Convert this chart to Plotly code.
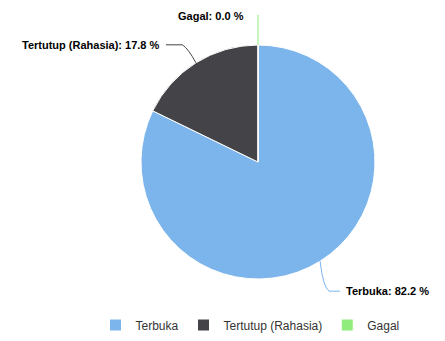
import math
import plotly.graph_objects as go

labels = ["Terbuka", "Tertutup (Rahasia)", "Gagal"]
values = [82.2, 17.8, 0.0]
colors = ["#7cb5ec", "#434348", "#90ed7d"]

W, H = 445, 341
OFF = 8  # page body margin of the browser
cx, cy, r = 258 - OFF, 162 - OFF, 117

fig = go.Figure(go.Pie(
    labels=labels, values=values, sort=False, direction="clockwise", rotation=0,
    marker=dict(colors=colors, line=dict(color="white", width=1)),
    textinfo="none", hoverinfo="label+percent",
    domain=dict(x=[(cx - r) / W, (cx + r) / W], y=[(H - cy - r) / H, (H - cy + r) / H]),
))

def px2paper(x, y):
    return x / W, 1 - y / H

total = sum(values)
cum = 0
shapes = []
annotations = []
label_cfg = [
    dict(dx=20, dy=30, side="right"),
    dict(dx=-30, dy=-18, side="left"),
    dict(dx=0, dy=-30, side="top"),
]
font = dict(family="Liberation Sans", size=11, color="#000")
for lab, v, col, cfg in zip(labels, values, colors, label_cfg):
    mid = (cum + v / 2) / total * 2 * math.pi
    cum += v
    ex = cx + r * math.sin(mid)
    ey = cy - r * math.cos(mid)
    pct = v / total * 100
    text = f"<b>{lab}: {pct:.1f} %</b>"
    if cfg["side"] == "top":
        tx, ty = ex, ey + cfg["dy"]
        x0, y0 = px2paper(ex, ey)
        x1, y1 = px2paper(tx, ty)
        shapes.append(dict(type="line", xref="paper", yref="paper", x0=x0, y0=y0, x1=x1, y1=y1,
                           line=dict(color=col, width=1)))
        ax_, ay_ = px2paper(tx - 12, ty + 1)
        annotations.append(dict(x=ax_, y=ay_, xref="paper", yref="paper", text=text, showarrow=False,
                                xanchor="right", yanchor="middle", font=font))
    else:
        sgn = 1 if cfg["side"] == "right" else -1
        kx, ky = ex + cfg["dx"] * 0.45, ey + cfg["dy"]
        tx, ty = ex + cfg["dx"], ey + cfg["dy"]
        p0 = px2paper(ex, ey)
        p1 = px2paper(kx - sgn * 6, ky - (cfg["dy"] / abs(cfg["dy"])) * 4)
        p2 = px2paper(kx, ky)
        p3 = px2paper(tx, ty)
        path = f"M {p0[0]},{p0[1]} Q {p1[0]},{p1[1]} {p2[0]},{p2[1]} L {p3[0]},{p3[1]}"
        shapes.append(dict(type="path", xref="paper", yref="paper", path=path,
                           line=dict(color=col, width=1)))
        lx, ly = px2paper(tx + sgn * 4, ty)
        annotations.append(dict(x=lx, y=ly, xref="paper", yref="paper", text=text, showarrow=False,
                                xanchor="left" if sgn > 0 else "right", yanchor="middle", font=font))

fig.update_layout(
    width=W, height=H, margin=dict(l=0, r=0, t=0, b=0),
    paper_bgcolor="white", plot_bgcolor="white",
    shapes=shapes, annotations=annotations,
    legend=dict(orientation="h", x=(250 - OFF) / W, xanchor="center", y=1 - (325 - OFF) / H, yanchor="middle",
                font=dict(family="Liberation Sans", size=12, color="#333"), itemwidth=30,
                traceorder="normal"),
    showlegend=True,
)
fig.write_html("out.html")
